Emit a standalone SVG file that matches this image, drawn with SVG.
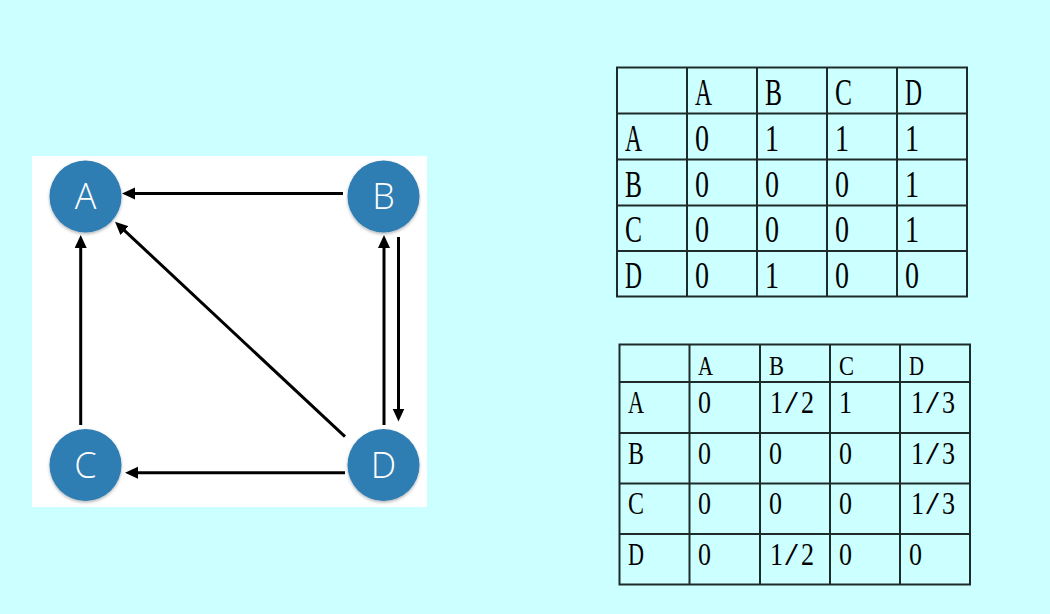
<svg xmlns="http://www.w3.org/2000/svg" width="1050" height="614" viewBox="0 0 1050 614">
<defs>
<marker id="ah" markerUnits="userSpaceOnUse" markerWidth="14" markerHeight="13" refX="8" refY="6" orient="auto">
<path d="M0,0 L13,6 L0,12 z" fill="#000"/>
</marker>
<filter id="sh" x="-20%" y="-20%" width="140%" height="150%">
<feDropShadow dx="0" dy="1.5" stdDeviation="1.5" flood-color="#000" flood-opacity="0.3"/>
</filter>
<style>
.node circle{fill:#2f7db3;filter:url(#sh)}
.node text{fill:#fff;font-family:"Open Sans","Liberation Sans",sans-serif;font-weight:300;font-size:36px;text-anchor:middle}
.edge{stroke:#000;stroke-width:3;fill:none;marker-end:url(#ah)}
.grid{stroke:#1e2b2b;stroke-width:2;fill:none}
.t1{font-family:"Liberation Serif",serif;font-size:38px;fill:#000}
.t2h{font-family:"Liberation Serif",serif;font-size:27px;fill:#000}
.t2{font-family:"Liberation Serif",serif;font-size:31px;fill:#000}
</style>
</defs>
<rect width="1050" height="614" fill="#ccffff"/>
<rect x="32" y="156" width="395" height="351" fill="#fff"/>

<g id="connectors">
<line class="edge" x1="343" y1="193.5" x2="127" y2="193.5"/>
<line class="edge" x1="80.7" y1="425" x2="80.7" y2="240"/>
<line class="edge" x1="345" y1="436.7" x2="118.7" y2="225.1"/>
<line class="edge" x1="345" y1="472.7" x2="130" y2="472.7"/>
<line class="edge" x1="384" y1="425" x2="384" y2="240"/>
<line class="edge" x1="398.5" y1="237" x2="398.5" y2="416.5"/>
</g>

<g id="node-A" class="node"><circle cx="85.5" cy="196.5" r="36"/><text x="85.5" y="209">A</text></g>
<g id="node-B" class="node"><circle cx="383.5" cy="196.5" r="36"/><text x="383.5" y="209">B</text></g>
<g id="node-C" class="node"><circle cx="85.5" cy="465" r="36"/><text x="85.5" y="477.5">C</text></g>
<g id="node-D" class="node"><circle cx="383.5" cy="465" r="36"/><text x="383.5" y="477.5">D</text></g>

<g id="table-adjacency">
<g class="grid">
<rect x="617" y="67.5" width="350" height="229"/>
<line x1="617" y1="113.5" x2="967" y2="113.5"/>
<line x1="617" y1="159.5" x2="967" y2="159.5"/>
<line x1="617" y1="205.5" x2="967" y2="205.5"/>
<line x1="617" y1="251" x2="967" y2="251"/>
<line x1="687" y1="67.5" x2="687" y2="296.5"/>
<line x1="757" y1="67.5" x2="757" y2="296.5"/>
<line x1="827" y1="67.5" x2="827" y2="296.5"/>
<line x1="897" y1="67.5" x2="897" y2="296.5"/>
</g>
<g class="t1">
<text x="695" y="105" textLength="17" lengthAdjust="spacingAndGlyphs">A</text>
<text x="765" y="105" textLength="17" lengthAdjust="spacingAndGlyphs">B</text>
<text x="835" y="105" textLength="17" lengthAdjust="spacingAndGlyphs">C</text>
<text x="905" y="105" textLength="17" lengthAdjust="spacingAndGlyphs">D</text>
<text x="625" y="151" textLength="17" lengthAdjust="spacingAndGlyphs">A</text>
<text x="695" y="151" textLength="14" lengthAdjust="spacingAndGlyphs">0</text>
<text x="765" y="151" textLength="14" lengthAdjust="spacingAndGlyphs">1</text>
<text x="835" y="151" textLength="14" lengthAdjust="spacingAndGlyphs">1</text>
<text x="905" y="151" textLength="14" lengthAdjust="spacingAndGlyphs">1</text>
<text x="625" y="197" textLength="17" lengthAdjust="spacingAndGlyphs">B</text>
<text x="695" y="197" textLength="14" lengthAdjust="spacingAndGlyphs">0</text>
<text x="765" y="197" textLength="14" lengthAdjust="spacingAndGlyphs">0</text>
<text x="835" y="197" textLength="14" lengthAdjust="spacingAndGlyphs">0</text>
<text x="905" y="197" textLength="14" lengthAdjust="spacingAndGlyphs">1</text>
<text x="625" y="242" textLength="17" lengthAdjust="spacingAndGlyphs">C</text>
<text x="695" y="242" textLength="14" lengthAdjust="spacingAndGlyphs">0</text>
<text x="765" y="242" textLength="14" lengthAdjust="spacingAndGlyphs">0</text>
<text x="835" y="242" textLength="14" lengthAdjust="spacingAndGlyphs">0</text>
<text x="905" y="242" textLength="14" lengthAdjust="spacingAndGlyphs">1</text>
<text x="625" y="288" textLength="17" lengthAdjust="spacingAndGlyphs">D</text>
<text x="695" y="288" textLength="14" lengthAdjust="spacingAndGlyphs">0</text>
<text x="765" y="288" textLength="14" lengthAdjust="spacingAndGlyphs">1</text>
<text x="835" y="288" textLength="14" lengthAdjust="spacingAndGlyphs">0</text>
<text x="905" y="288" textLength="14" lengthAdjust="spacingAndGlyphs">0</text>
</g>
</g>

<g id="table-transition">
<g class="grid">
<rect x="619.5" y="344.5" width="350.5" height="240"/>
<line x1="619.5" y1="382" x2="970" y2="382"/>
<line x1="619.5" y1="433" x2="970" y2="433"/>
<line x1="619.5" y1="483.5" x2="970" y2="483.5"/>
<line x1="619.5" y1="534" x2="970" y2="534"/>
<line x1="689.5" y1="344.5" x2="689.5" y2="584.5"/>
<line x1="760" y1="344.5" x2="760" y2="584.5"/>
<line x1="830" y1="344.5" x2="830" y2="584.5"/>
<line x1="900" y1="344.5" x2="900" y2="584.5"/>
</g>
<g class="t2h">
<text x="698" y="375" textLength="15" lengthAdjust="spacingAndGlyphs">A</text>
<text x="769" y="375" textLength="15" lengthAdjust="spacingAndGlyphs">B</text>
<text x="839" y="375" textLength="15" lengthAdjust="spacingAndGlyphs">C</text>
<text x="909" y="375" textLength="15" lengthAdjust="spacingAndGlyphs">D</text>
</g>
<g class="t2">
<text x="628" y="413" textLength="16" lengthAdjust="spacingAndGlyphs">A</text>
<text x="698" y="413" textLength="13" lengthAdjust="spacingAndGlyphs">0</text>
<text y="413"><tspan x="770" textLength="13" lengthAdjust="spacingAndGlyphs">1</tspan><tspan x="785" textLength="13" lengthAdjust="spacingAndGlyphs">/</tspan><tspan x="801" textLength="13" lengthAdjust="spacingAndGlyphs">2</tspan></text>
<text x="839" y="413" textLength="13" lengthAdjust="spacingAndGlyphs">1</text>
<text y="413"><tspan x="911" textLength="13" lengthAdjust="spacingAndGlyphs">1</tspan><tspan x="926" textLength="13" lengthAdjust="spacingAndGlyphs">/</tspan><tspan x="942" textLength="13" lengthAdjust="spacingAndGlyphs">3</tspan></text>
<text x="628" y="463.5" textLength="16" lengthAdjust="spacingAndGlyphs">B</text>
<text x="698" y="463.5" textLength="13" lengthAdjust="spacingAndGlyphs">0</text>
<text x="769" y="463.5" textLength="13" lengthAdjust="spacingAndGlyphs">0</text>
<text x="839" y="463.5" textLength="13" lengthAdjust="spacingAndGlyphs">0</text>
<text y="463.5"><tspan x="911" textLength="13" lengthAdjust="spacingAndGlyphs">1</tspan><tspan x="926" textLength="13" lengthAdjust="spacingAndGlyphs">/</tspan><tspan x="942" textLength="13" lengthAdjust="spacingAndGlyphs">3</tspan></text>
<text x="628" y="514" textLength="16" lengthAdjust="spacingAndGlyphs">C</text>
<text x="698" y="514" textLength="13" lengthAdjust="spacingAndGlyphs">0</text>
<text x="769" y="514" textLength="13" lengthAdjust="spacingAndGlyphs">0</text>
<text x="839" y="514" textLength="13" lengthAdjust="spacingAndGlyphs">0</text>
<text y="514"><tspan x="911" textLength="13" lengthAdjust="spacingAndGlyphs">1</tspan><tspan x="926" textLength="13" lengthAdjust="spacingAndGlyphs">/</tspan><tspan x="942" textLength="13" lengthAdjust="spacingAndGlyphs">3</tspan></text>
<text x="628" y="564.5" textLength="16" lengthAdjust="spacingAndGlyphs">D</text>
<text x="698" y="564.5" textLength="13" lengthAdjust="spacingAndGlyphs">0</text>
<text y="564.5"><tspan x="770" textLength="13" lengthAdjust="spacingAndGlyphs">1</tspan><tspan x="785" textLength="13" lengthAdjust="spacingAndGlyphs">/</tspan><tspan x="801" textLength="13" lengthAdjust="spacingAndGlyphs">2</tspan></text>
<text x="839" y="564.5" textLength="13" lengthAdjust="spacingAndGlyphs">0</text>
<text x="909" y="564.5" textLength="13" lengthAdjust="spacingAndGlyphs">0</text>
</g>
</g>
</svg>
